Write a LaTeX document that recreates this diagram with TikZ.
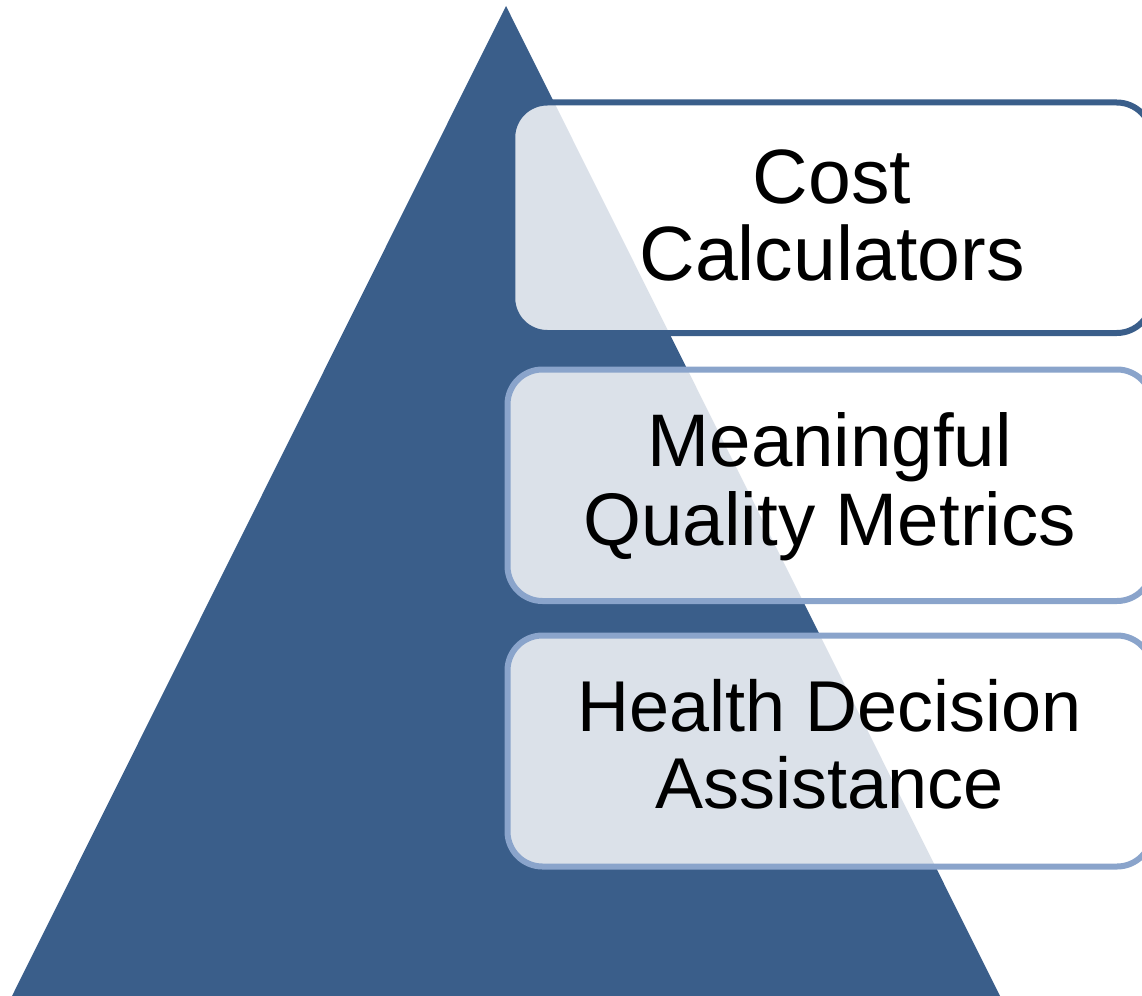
\documentclass[tikz,border=0pt]{standalone}
\usepackage{fontspec}
\setmainfont{Liberation Sans}
\definecolor{pyr}{HTML}{3A5E8A}
\definecolor{lightedge}{HTML}{8AA4CB}
\begin{document}
\begin{tikzpicture}[x=1pt,y=-1pt,
  tier/.style={draw=#1, line width=6pt, rounded corners=35pt, fill=white, fill opacity=0.82,
    inner sep=0pt},
  tiertext/.style={align=center, inner sep=0pt, text=black},
  ]
  \useasboundingbox (0,0) rectangle (1142,995);
  \clip (0,0) rectangle (1142,995);
  \fill[pyr] (506,6) -- (1001,998) -- (11,998) -- cycle;
  \node[tier=pyr, minimum width=639.5pt, minimum height=230.5pt] (cost) at (832,217.75) {};
  \node[tier=lightedge, minimum width=644.5pt, minimum height=231.5pt] (quality) at (829.75,485.25) {};
  \node[tier=lightedge, minimum width=644.5pt, minimum height=231pt] (health) at (829.75,751) {};
  \node[tiertext, font=\fontsize{77}{77}\selectfont] (costtext) at ([yshift=2pt]cost.center) {Cost\\Calculators};
  \node[tiertext, font=\fontsize{74.5}{79}\selectfont] (qualitytext) at ([yshift=-1pt]quality.center) {Meaningful\\Quality Metrics};
  \node[tiertext, font=\fontsize{72}{77}\selectfont] (healthtext) at ([yshift=7pt]health.center) {Health Decision\\Assistance};
\end{tikzpicture}
\end{document}
